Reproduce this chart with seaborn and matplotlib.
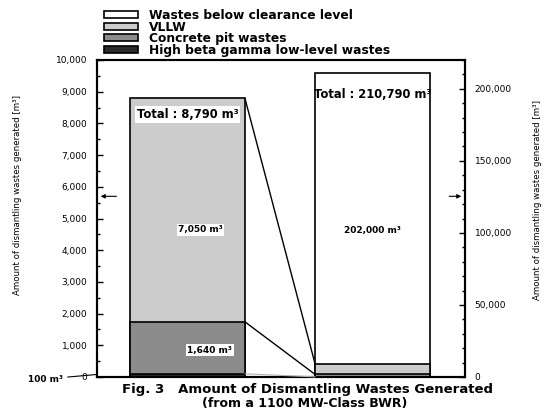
import matplotlib
matplotlib.use("Agg")
import matplotlib.pyplot as plt
import seaborn as sns
from matplotlib.patches import Patch, ConnectionPatch
from matplotlib.ticker import MultipleLocator, FuncFormatter

# ---------------- data ----------------
categories = ["Wastes excluding clearance", "All dismantling wastes"]
layer_names = ["High beta gamma low-level wastes", "Concrete pit wastes",
               "VLLW", "Wastes below clearance level"]
layer_colors = ["#2b2b2b", "#8c8c8c", "#cccccc", "#ffffff"]
high_beta = [100, 100]
concrete_pit = [1640, 1640]
vllw = [7050, 7050]
below_clearance = [0, 202000]
left_ticks = list(range(0, 10001, 1000))
right_ticks = list(range(0, 200001, 50000))
total_labels = ["Total : 8,790 m³", "Total : 210,790 m³"]
segment_labels = ["7,050 m³", "202,000 m³", "1,640 m³"]
callout_label = "100 m³"
ylabel = "Amount of dismantling wastes generated [m³]"
caption = ["Fig. 3   Amount of Dismantling Wastes Generated",
           "(from a 1100 MW-Class BWR)"]

sns.set_style("ticks")
plt.rcParams["font.family"] = ["DejaVu Sans"]
plt.rcParams["text.color"] = "black"
plt.rcParams["ytick.color"] = "black"
plt.rcParams["ytick.labelcolor"] = "black"
plt.rcParams["ytick.direction"] = "in"

fig = plt.figure(figsize=(5.55, 4.12), dpi=100)
ax = fig.add_axes([97 / 555, 35 / 412, 368 / 555, 317 / 412])
ax2 = ax.twinx()

layers = [high_beta, concrete_pit, vllw, below_clearance]
W = 0.62
# stacked bars: draw cumulative totals back to front
for bar_i, target in enumerate([ax, ax2]):
    for li in reversed(range(len(layers))):
        if layers[li][bar_i] == 0:
            continue
        cum = sum(layers[k][bar_i] for k in range(li + 1))
        sns.barplot(x=[categories[bar_i]], y=[cum], order=categories, ax=target,
                    color=layer_colors[li], edgecolor="black", linewidth=1.2,
                    width=W, saturation=1, errorbar=None)

ax.set_xlim(-0.49, 1.5)
ax2.set_xlim(-0.49, 1.5)
ax.set_ylim(0, 10000)
ax2.set_ylim(0, 220000)

for a in (ax, ax2):
    a.set_xticks([])
    a.set_xlabel("")
    a.set_ylabel("")
    for s in a.spines.values():
        s.set_linewidth(1.5)
        s.set_color("black")
        s.set_visible(True)

ax.set_yticks(left_ticks)
ax.yaxis.set_minor_locator(MultipleLocator(500))
ax.yaxis.set_major_formatter(FuncFormatter(lambda v, p: f"{int(v):,}"))
ax2.set_yticks(right_ticks)
ax2.yaxis.set_minor_locator(MultipleLocator(10000))
ax2.yaxis.set_major_formatter(FuncFormatter(lambda v, p: f"{int(v):,}"))
for a in (ax, ax2):
    a.tick_params(axis="y", which="major", direction="in", length=4, width=1,
                  labelsize=6.5, pad=7, colors="black")
    a.tick_params(axis="y", which="minor", direction="in", length=2.5, width=1,
                  colors="black")

# connector lines between the two bars
cum_left = [high_beta[0], high_beta[0] + concrete_pit[0],
            high_beta[0] + concrete_pit[0] + vllw[0]]
for v, col, lw in zip(cum_left, ["#b0b0b0", "black", "black"], [0.8, 1.0, 1.0]):
    con = ConnectionPatch(xyA=(0 + W / 2, v), coordsA=ax.transData,
                          xyB=(1 - W / 2, v), coordsB=ax2.transData,
                          color=col, lw=lw, zorder=5)
    ax2.add_artist(con)

# texts
ax.text(0, 8280, total_labels[0], ha="center", va="center", fontsize=8.3,
        fontweight="bold", zorder=4,
        bbox=dict(fc="white", ec="none", pad=1.2))
ax2.text(1.0, 196000, total_labels[1], ha="center", va="center", fontsize=8.3,
         fontweight="bold", zorder=4)
ax.text(0.07, 4640, segment_labels[0], ha="center", va="center", fontsize=6.5,
        fontweight="bold", bbox=dict(fc="white", ec="none", pad=1))
ax2.text(1.0, 102000, segment_labels[1], ha="center", va="center", fontsize=6.5,
         fontweight="bold")
ax.text(0.12, 850, segment_labels[2], ha="center", va="center", fontsize=6.5,
        fontweight="bold", bbox=dict(fc="white", ec="none", pad=1))

# arrows pointing to each axis
ax.annotate("", xy=(-0.485, 5700), xytext=(-0.37, 5700),
            arrowprops=dict(arrowstyle="-|>", lw=0.8, color="black", mutation_scale=6))
ax.annotate("", xy=(1.495, 5700), xytext=(1.40, 5700),
            arrowprops=dict(arrowstyle="-|>", lw=0.8, color="black", mutation_scale=6))

# 100 m3 callout
ax.annotate(callout_label, xy=(-0.49, 80), xycoords="data",
            xytext=(28 / 555, 1 - 379 / 412), textcoords="figure fraction",
            fontsize=6.5, fontweight="bold", ha="left", va="center",
            arrowprops=dict(arrowstyle="-", lw=0.8, color="black",
                            shrinkA=1, shrinkB=0),
            annotation_clip=False)

# axis labels
fig.text(18 / 555, 1 - 195 / 412, ylabel, rotation=90, ha="center", va="center", fontsize=6.2)
fig.text(537 / 555, 1 - 200 / 412, ylabel, rotation=90, ha="center", va="center", fontsize=6.2)

# caption
fig.text(308 / 555, 1 - 389 / 412, caption[0], ha="center", va="center",
         fontsize=9.5, fontweight="bold")
fig.text(305 / 555, 1 - 403 / 412, caption[1], ha="center", va="center",
         fontsize=9, fontweight="bold")

# legend
handles = [Patch(facecolor=layer_colors[i], edgecolor="black", linewidth=1.2)
           for i in [3, 2, 1, 0]]
labels = [layer_names[i] for i in [3, 2, 1, 0]]
fig.legend(handles, labels, loc="upper left", bbox_to_anchor=(104 / 555, 1 - 9 / 412),
           frameon=False, prop=dict(size=8.8, weight="bold"), handlelength=2.8,
           handleheight=0.55, labelspacing=-0.12, borderpad=0, handletextpad=0.9,
           borderaxespad=0)

fig.savefig("out.png", dpi=100)
